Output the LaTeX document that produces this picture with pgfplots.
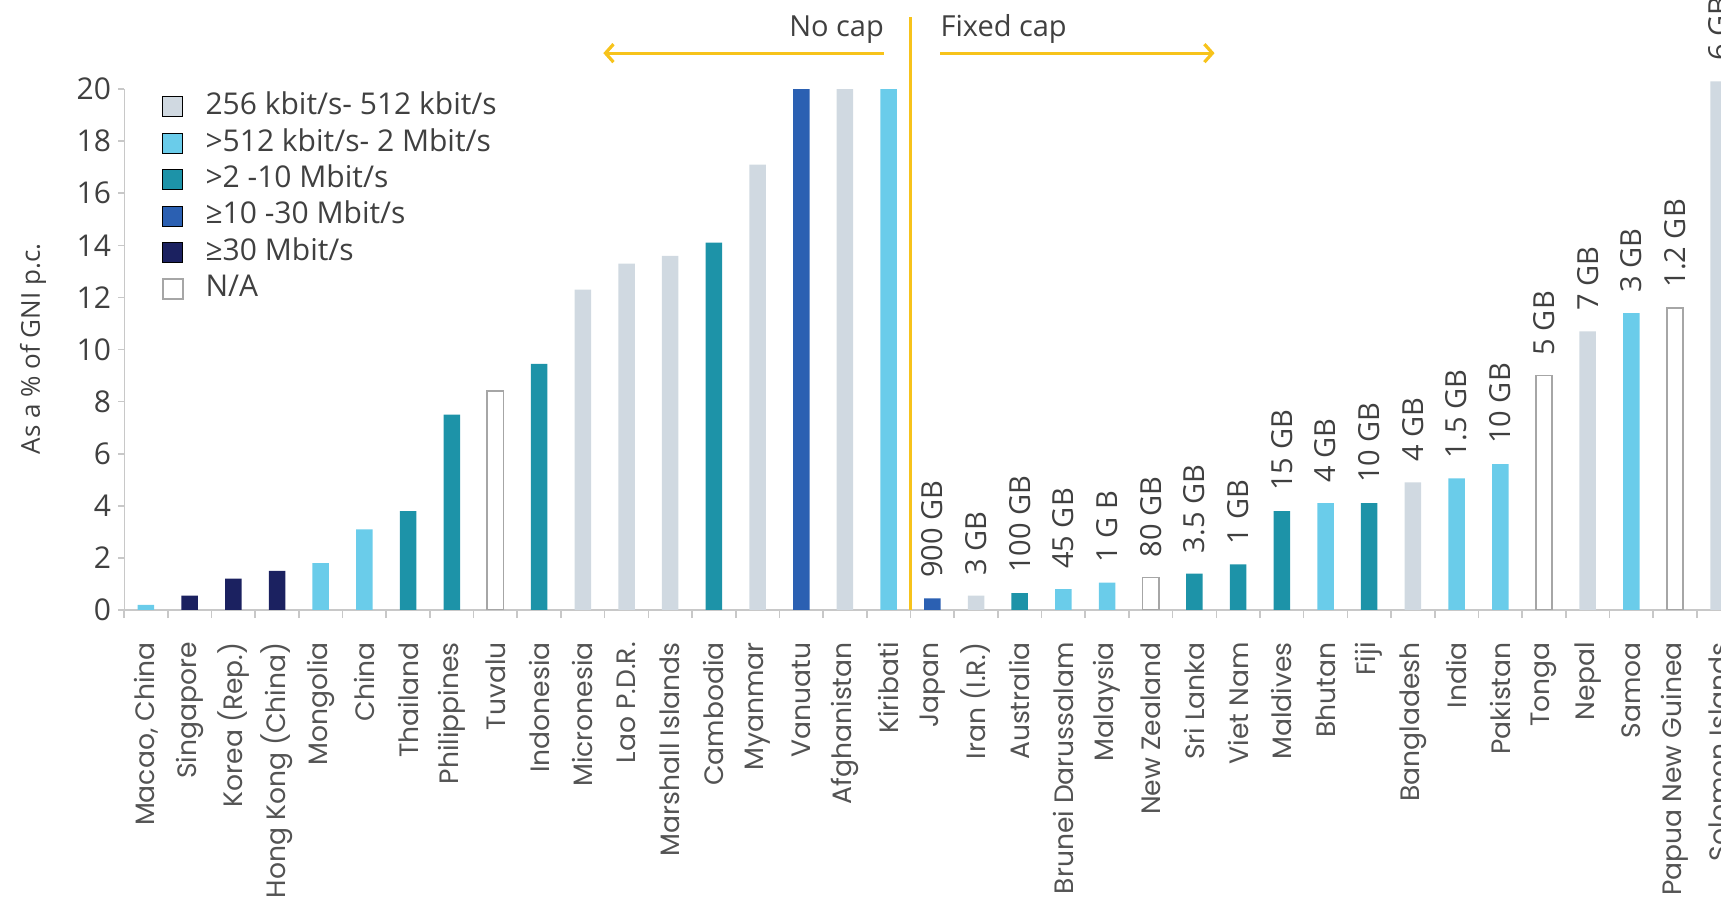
\documentclass[border=0pt]{standalone}
\usepackage{pgfplots}
\pgfplotsset{compat=1.18}
\usepackage{fontspec}
\setmainfont{Open Sans}
\newfontfamily\xfont{Poppins}
\usetikzlibrary{arrows.meta}

\definecolor{cGray}{HTML}{D0D9E1}
\definecolor{cCyan}{HTML}{6ACCEA}
\definecolor{cTeal}{HTML}{1D93A8}
\definecolor{cBlue}{HTML}{2B60B2}
\definecolor{cNavy}{HTML}{1B2160}
\definecolor{cNA}{HTML}{A6A6A6}
\definecolor{cYel}{HTML}{F7C31B}
\definecolor{txt}{HTML}{404040}
\definecolor{axg}{HTML}{C8C8C8}

\pgfplotsset{
  mybar/.style={ybar, bar width=8.25pt, bar shift=0pt, draw=none,
    legend image code/.code={\draw[##1] (0pt,-5pt) rectangle (10pt,5pt);}},
}

\begin{document}
\begin{tikzpicture}
\begin{axis}[
  name=ax,
  scale only axis,
  width=798.4pt, height=305pt,
  xmin=-0.5, xmax=36.05, ymin=0, ymax=23.42,
  axis x line*=bottom, axis y line*=left,
  x axis line style={draw=axg, line width=0.8pt, -},
  y axis line style={draw=none},
  tick align=outside,
  major tick length=3pt,
  xtick={0,...,36},
  xtick style={draw=none},
  xticklabels={{Macao, China},Singapore,{Korea (Rep.)},{Hong Kong (China)},Mongolia,China,Thailand,Philippines,Tuvalu,Indonesia,Micronesia,{Lao P.D.R.},{Marshall Islands},Cambodia,Myanmar,Vanuatu,Afghanistan,Kiribati,Japan,{Iran (I.R.)},Australia,{Brunei Darussalam},Malaysia,{New Zealand},{Sri Lanka},{Viet Nam},Maldives,Bhutan,Fiji,Bangladesh,India,Pakistan,Tonga,Nepal,Samoa,{Papua New Guinea},{Solomon Islands}},
  xticklabel style={font=\xfont\fontsize{13.3}{15}\selectfont, text=txt!90, inner sep=0pt, yshift=-13pt, rotate=90, anchor=east},
  extra x ticks={-0.5,0.5,...,35.5},
  extra x tick labels={},
  extra x tick style={xtick style={draw=axg, line width=0.8pt}, major tick length=4pt},
  ytick={0,2,...,20},
  ytick style={draw=axg, line width=0.8pt},
  yticklabel style={font=\fontsize{15}{17}\selectfont, text=txt},
  /pgf/number format/assume math mode=true,
  ylabel={As a \% of GNI p.c.},
  ylabel style={at={(axis description cs:-0.057,0.428)}, anchor=center, font=\fontsize{13}{15}\selectfont, text=txt},
  legend style={at={(axis description cs:0.0237,0.848)}, anchor=north west, draw=none, fill=none,
    inner sep=0pt, outer sep=0pt, font=\fontsize{15}{17}\selectfont,
    row sep=4.2pt, column sep=11pt, nodes={inner sep=0pt, text height=11pt, text depth=3pt, text=txt}},
  legend cell align=left,
]
\addplot[mybar, fill=cGray] coordinates {(10,12.3) (11,13.3) (12,13.6) (14,17.1) (16,20) (19,0.55) (29,4.9) (33,10.7) (36,20.3)};
\addlegendentry{256 kbit/s- 512 kbit/s}
\addplot[mybar, fill=cCyan] coordinates {(0,0.2) (4,1.8) (5,3.1) (17,20) (21,0.8) (22,1.05) (27,4.1) (30,5.05) (31,5.6) (34,11.4)};
\addlegendentry{>512 kbit/s- 2 Mbit/s}
\addplot[mybar, fill=cTeal] coordinates {(6,3.8) (7,7.5) (9,9.45) (13,14.1) (20,0.65) (24,1.4) (25,1.75) (26,3.8) (28,4.1)};
\addlegendentry{>2 -10 Mbit/s}
\addplot[mybar, fill=cBlue] coordinates {(15,20) (18,0.45)};
\addlegendentry{≥10 -30 Mbit/s}
\addplot[mybar, fill=cNavy] coordinates {(1,0.55) (2,1.2) (3,1.5)};
\addlegendentry{≥30 Mbit/s}
\addplot[mybar, fill=white, draw=cNA, line width=0.8pt] coordinates {(8,8.4) (23,1.25) (32,9.0) (35,11.6)};
\addlegendentry{N/A}
\addplot[forget plot, draw=none, mark=none, point meta=explicit symbolic, nodes near coords,
  nodes near coords style={font=\fontsize{14.5}{16}\selectfont, text=txt, rotate=90, anchor=west, inner xsep=10pt, inner ysep=0pt}]
  coordinates {(18,0.45)[900 GB] (19,0.55)[3 GB] (20,0.65)[100 GB] (21,0.8)[45 GB] (22,1.05)[1 G B] (23,1.25)[80 GB] (24,1.4)[3.5 GB] (25,1.75)[1 GB] (26,3.8)[15 GB] (27,4.1)[4 GB] (28,4.1)[10 GB] (29,4.9)[4 GB] (30,5.05)[1.5 GB] (31,5.6)[10 GB] (32,9.0)[5 GB] (33,10.7)[7 GB] (34,11.4)[3 GB] (35,11.6)[1.2 GB] (36,20.3)[6 GB]};
\draw[axg, line width=0.8pt] (axis cs:-0.5,0) -- (axis cs:-0.5,20);
\draw[cYel, line width=1.6pt] (axis cs:17.5,0) -- (axis cs:17.5,22.78);
\draw[cYel, line width=1.6pt, {Straight Barb[length=4pt,width=9pt]}-] (axis cs:10.47,21.38) -- (axis cs:16.9,21.38);
\draw[cYel, line width=1.6pt, -{Straight Barb[length=4pt,width=9pt]}] (axis cs:18.18,21.38) -- (axis cs:24.46,21.38);
\node[anchor=base east, inner sep=0pt, font=\fontsize{14.5}{16}\selectfont, text=txt] at (axis cs:16.9,22.03) {No cap};
\node[anchor=base west, inner sep=0pt, font=\fontsize{14.5}{16}\selectfont, text=txt] at (axis cs:18.18,22.03) {Fixed cap};
\end{axis}
\pgfresetboundingbox
\path[use as bounding box] (ax.south west) ++(-62.05pt,-147pt) rectangle ++(860.5pt,452pt);
\end{tikzpicture}
\end{document}
